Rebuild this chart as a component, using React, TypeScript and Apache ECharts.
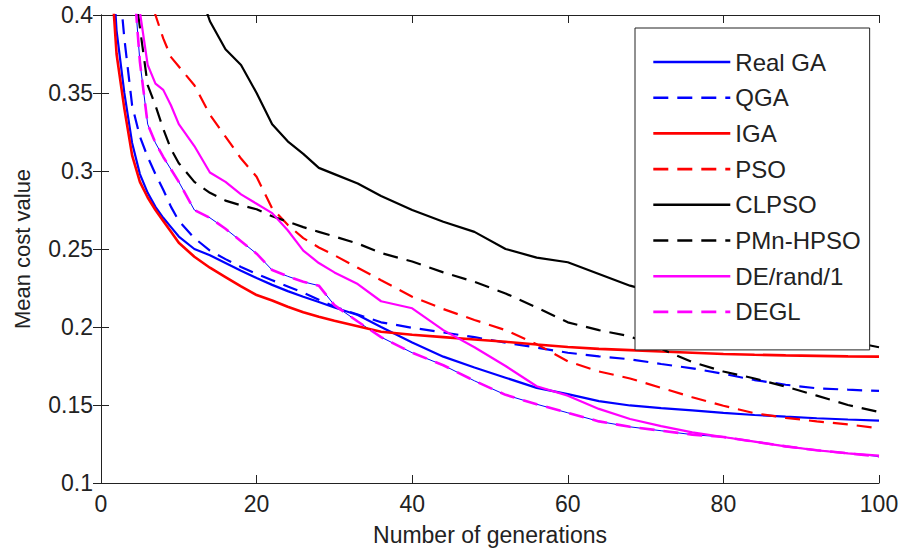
import React, { useEffect, useRef } from "react";
import * as echarts from "echarts";

const generations = [1, 2, 3, 4, 5, 6, 7, 8, 9, 10, 12, 14, 16, 18, 20, 22, 24, 26, 28, 30, 33, 36, 40, 44, 48, 52, 56, 60, 64, 68, 72, 76, 80, 84, 88, 92, 96, 100];

const realGA = [0.47, 0.39, 0.35, 0.318, 0.298, 0.286, 0.277, 0.27, 0.264, 0.258, 0.25, 0.246, 0.241, 0.236, 0.2314, 0.227, 0.223, 0.2194, 0.216, 0.2125, 0.2077, 0.2, 0.19, 0.181, 0.174, 0.1675, 0.161, 0.157, 0.1525, 0.1497, 0.148, 0.1465, 0.145, 0.1436, 0.1425, 0.1415, 0.1407, 0.14];
const qga = [0.52, 0.44, 0.385, 0.342, 0.322, 0.309, 0.298, 0.288, 0.277, 0.268, 0.257, 0.249, 0.2435, 0.2385, 0.234, 0.23, 0.226, 0.222, 0.2175, 0.213, 0.208, 0.203, 0.1995, 0.1965, 0.1935, 0.19, 0.1868, 0.1835, 0.1812, 0.1793, 0.1763, 0.1735, 0.17, 0.166, 0.163, 0.1607, 0.1598, 0.159];
const iga = [0.45, 0.375, 0.34, 0.31, 0.293, 0.283, 0.275, 0.268, 0.261, 0.254, 0.245, 0.238, 0.232, 0.226, 0.2205, 0.217, 0.213, 0.2095, 0.2065, 0.204, 0.2005, 0.197, 0.195, 0.1935, 0.192, 0.1905, 0.1888, 0.1872, 0.186, 0.1852, 0.1843, 0.1835, 0.1827, 0.1822, 0.1818, 0.1815, 0.1812, 0.181];
const pso = [0.6, 0.55, 0.51, 0.48, 0.45, 0.425, 0.4, 0.385, 0.373, 0.367, 0.355, 0.336, 0.322, 0.308, 0.2963, 0.276, 0.2655, 0.257, 0.251, 0.246, 0.238, 0.23, 0.2194, 0.2115, 0.2045, 0.198, 0.189, 0.178, 0.1715, 0.167, 0.161, 0.155, 0.1495, 0.1447, 0.1418, 0.1395, 0.1376, 0.135];
const clpso = [0.75, 0.7, 0.66, 0.62, 0.59, 0.56, 0.535, 0.51, 0.49, 0.47, 0.425, 0.396, 0.378, 0.368, 0.35, 0.33, 0.319, 0.311, 0.302, 0.298, 0.292, 0.284, 0.275, 0.2675, 0.261, 0.25, 0.2445, 0.2415, 0.234, 0.2265, 0.221, 0.216, 0.211, 0.205, 0.2, 0.195, 0.191, 0.187];
const pmnHpso = [0.6, 0.53, 0.47, 0.43, 0.392, 0.355, 0.342, 0.327, 0.314, 0.305, 0.293, 0.286, 0.281, 0.278, 0.2755, 0.271, 0.2675, 0.264, 0.261, 0.258, 0.2535, 0.2474, 0.242, 0.235, 0.229, 0.2215, 0.2125, 0.203, 0.198, 0.194, 0.186, 0.1775, 0.1715, 0.167, 0.1618, 0.156, 0.15, 0.1455];
const deRand1 = [0.62, 0.55, 0.49, 0.44, 0.402, 0.368, 0.356, 0.352, 0.342, 0.33, 0.316, 0.299, 0.293, 0.285, 0.279, 0.273, 0.262, 0.249, 0.241, 0.235, 0.2275, 0.2165, 0.212, 0.198, 0.187, 0.175, 0.162, 0.156, 0.1475, 0.141, 0.1365, 0.1325, 0.1295, 0.1265, 0.1235, 0.121, 0.119, 0.1175];
const degl = [0.65, 0.56, 0.49, 0.435, 0.37, 0.33, 0.318, 0.309, 0.301, 0.293, 0.275, 0.27, 0.263, 0.255, 0.247, 0.2365, 0.2325, 0.229, 0.2265, 0.214, 0.2035, 0.1935, 0.1835, 0.1755, 0.1655, 0.1565, 0.1505, 0.145, 0.1395, 0.136, 0.1335, 0.131, 0.1295, 0.1265, 0.1235, 0.121, 0.119, 0.117];

const xTicks = [0, 20, 40, 60, 80, 100];
const yTicks = ["0.1", "0.15", "0.2", "0.25", "0.3", "0.35", "0.4"];

const FONT = "'Liberation Sans', Arial, sans-serif";
const DASH = [15, 9];

const seriesDefs = [
  { name: "Real GA", data: realGA, color: "#0000ff", dashed: false, width: 2.2 },
  { name: "QGA", data: qga, color: "#0000ff", dashed: true, width: 2.2 },
  { name: "IGA", data: iga, color: "#ff0000", dashed: false, width: 2.6 },
  { name: "PSO", data: pso, color: "#ff0000", dashed: true, width: 2.2 },
  { name: "CLPSO", data: clpso, color: "#000000", dashed: false, width: 2.2 },
  { name: "PMn-HPSO", data: pmnHpso, color: "#000000", dashed: true, width: 2.2 },
  { name: "DE/rand/1", data: deRand1, color: "#ff00ff", dashed: false, width: 2.2 },
  { name: "DEGL", data: degl, color: "#ff00ff", dashed: true, width: 2.6 },
];

export default function App() {
  const ref = useRef<HTMLDivElement>(null);
  useEffect(() => {
    if (!ref.current) return;
    const chart = echarts.init(ref.current, null, { renderer: "svg" });
    const pairs = (vals: number[]) => generations.map((g, i) => [g, vals[i]]);
    const series: any[] = [
      {
        name: "DEGL-trace",
        type: "line",
        data: pairs(degl),
        symbol: "none",
        lineStyle: { color: "#0000ff", width: 1, type: "solid" },
        itemStyle: { color: "#0000ff" },
        z: 2,
        silent: true,
      },
      ...seriesDefs.map((s) => ({
        name: s.name,
        type: "line",
        data: pairs(s.data),
        symbol: "none",
        clip: true,
        lineStyle: { color: s.color, width: s.width, type: s.dashed ? DASH : "solid" },
        itemStyle: { color: s.color },
        z: 3,
      })),
    ];
    const axisLine = { show: true, lineStyle: { color: "#222", width: 1 } };
    const tick = { show: true, inside: true, length: 8, lineStyle: { color: "#222" } };
    chart.setOption({
      animation: false,
      backgroundColor: "#ffffff",
      textStyle: { fontFamily: FONT },
      grid: { left: 101, right: 24, top: 15, bottom: 69, containLabel: false },
      legend: {
        orient: "vertical",
        left: 635,
        top: 28,
        z: 20,
        data: seriesDefs.map((s) => s.name),
        itemWidth: 77,
        itemHeight: 14,
        itemGap: 11.7,
        padding: [22, 9, 26, 17],
        backgroundColor: "#ffffff",
        borderColor: "#222",
        borderWidth: 1,
        borderRadius: 0,
        selectedMode: false,
        itemStyle: { opacity: 0, borderWidth: 0 },
        lineStyle: { width: 2.6 },
        textStyle: { fontFamily: FONT, fontSize: 24, color: "#222", lineHeight: 23 },
      },
      xAxis: [
        {
          type: "value",
          min: 0,
          max: 100,
          interval: 20,
          axisLine,
          axisTick: tick,
          splitLine: { show: false },
          axisLabel: {
            margin: 9,
            fontSize: 23,
            color: "#222",
            fontFamily: FONT,
            formatter: (v: number) => String(xTicks.find((t) => t === v) ?? v),
          },
          name: "Number of generations",
          nameLocation: "middle",
          nameGap: 40,
          nameTextStyle: { fontSize: 23, color: "#222", fontFamily: FONT },
        },
        {
          type: "value",
          position: "top",
          min: 0,
          max: 100,
          interval: 20,
          axisLine,
          axisTick: tick,
          axisLabel: { show: false },
          splitLine: { show: false },
        },
      ],
      yAxis: [
        {
          type: "value",
          min: 0.1,
          max: 0.4,
          interval: 0.05,
          axisLine,
          axisTick: tick,
          splitLine: { show: false },
          axisLabel: {
            margin: 8,
            fontSize: 23,
            color: "#222",
            fontFamily: FONT,
            formatter: (v: number) => yTicks[Math.round((v - 0.1) / 0.05)] ?? String(v),
          },
          name: "Mean cost value",
          nameLocation: "middle",
          nameGap: 68,
          nameTextStyle: { fontSize: 22, color: "#222", fontFamily: FONT },
        },
        {
          type: "value",
          position: "right",
          min: 0.1,
          max: 0.4,
          interval: 0.05,
          axisLine,
          axisTick: tick,
          axisLabel: { show: false },
          splitLine: { show: false },
        },
      ],
      series,
    });
    return () => chart.dispose();
  }, []);
  return <div ref={ref} style={{ width: 903, height: 552, position: "fixed", left: 0, top: 0 }} />;
}
